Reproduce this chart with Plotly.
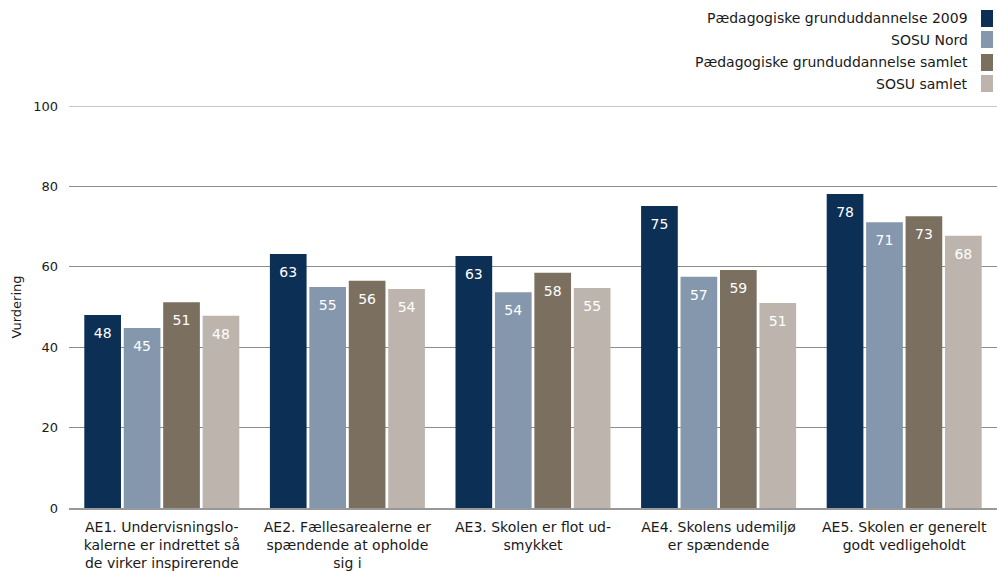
import plotly.graph_objects as go

categories = [
    "AE1. Undervisningslo-<br>kalerne er indrettet så<br>de virker inspirerende",
    "AE2. Fællesarealerne er<br>spændende at opholde<br>sig i",
    "AE3. Skolen er flot ud-<br>smykket",
    "AE4. Skolens udemiljø<br>er spændende",
    "AE5. Skolen er generelt<br>godt vedligeholdt",
]
series_names = [
    "Pædagogiske grunduddannelse 2009",
    "SOSU Nord",
    "Pædagogiske grunduddannelse samlet",
    "SOSU samlet",
]
# Bar heights
values_pg2009 = [48.0, 63.2, 62.7, 75.1, 78.1]
values_sosu_nord = [44.8, 55.0, 53.7, 57.5, 71.1]
values_pg_samlet = [51.2, 56.5, 58.5, 59.2, 72.6]
values_sosu_samlet = [47.8, 54.5, 54.7, 51.0, 67.7]
# Labels as printed on the bars
labels_pg2009 = [48, 63, 63, 75, 78]
labels_sosu_nord = [45, 55, 54, 57, 71]
labels_pg_samlet = [51, 56, 58, 59, 73]
labels_sosu_samlet = [48, 54, 55, 51, 68]
colors = ["#0c2f56", "#8497ac", "#7b6f5f", "#bdb5ad"]
y_ticks = [0, 20, 40, 60, 80, 100]

all_values = [values_pg2009, values_sosu_nord, values_pg_samlet, values_sosu_samlet]
all_labels = [labels_pg2009, labels_sosu_nord, labels_pg_samlet, labels_sosu_samlet]

FONT = "DejaVu Sans"
TXT = "#1a1a1a"
GRID = "#8c8c8c"
fig = go.Figure()
for i, (name, vals, col) in enumerate(zip(series_names, all_values, colors)):
    fig.add_trace(go.Bar(
        x=categories, y=vals, name=name, marker_color=col, marker_line_width=0,
        offsetgroup=str(i), showlegend=False, hoverinfo="skip",
    ))
for i, (name, vals, lab) in enumerate(zip(series_names, all_values, all_labels)):
    fig.add_trace(go.Scatter(
        x=categories, y=vals, mode="markers+text", text=[str(v) for v in lab],
        textposition="bottom center", offsetgroup=str(i),
        marker=dict(size=18, color="rgba(0,0,0,0)"),
        textfont=dict(color="white", size=14, family=FONT),
        showlegend=False, name=name, hoverinfo="skip",
    ))

# Top gridline at 100
fig.add_hline(y=100, line_color=GRID, line_width=1, layer="below")

# Legend on the right: right-aligned text with the colour swatch to its right
row_y = [18, 40, 62, 84]
for i, (name, col) in enumerate(zip(series_names, colors)):
    yc = row_y[i]
    fig.add_annotation(
        xref="paper", yref="paper", x=(970 - 69) / 928, y=1 + (106 - yc) / 402,
        text=name, showarrow=False, xanchor="right", yanchor="middle",
        font=dict(size=14, family=FONT, color=TXT),
    )
    fig.add_annotation(
        xref="paper", yref="paper", x=(987 - 69) / 928, y=1 + (106 - yc) / 402,
        text="", showarrow=False, xanchor="center", yanchor="middle",
        width=12, height=17, bgcolor=col, borderpad=0, borderwidth=0,
    )

fig.update_layout(
    width=997, height=572,
    margin=dict(l=69, r=0, t=106, b=64),
    barmode="group", bargap=0.15, bargroupgap=0.07,
    scattermode="group", scattergap=0.15,
    plot_bgcolor="white", paper_bgcolor="white",
    font=dict(family=FONT, size=14, color=TXT),
    showlegend=False,
)
fig.update_yaxes(
    range=[0, 100], tickvals=y_ticks, showgrid=True, gridcolor=GRID, gridwidth=1,
    zeroline=False, ticks="", ticklabelstandoff=10,
    tickfont=dict(size=13, family=FONT, color=TXT),
    title=dict(text="Vurdering", standoff=8, font=dict(size=13, family=FONT, color=TXT)),
)
fig.update_xaxes(
    showline=True, linecolor="#999999", linewidth=1.5, ticks="",
    ticklabelstandoff=5,
    tickfont=dict(size=14, family=FONT, color=TXT),
)

fig.write_html("out.html", config={"displayModeBar": False},
               post_script="document.body.style.margin='0';")
